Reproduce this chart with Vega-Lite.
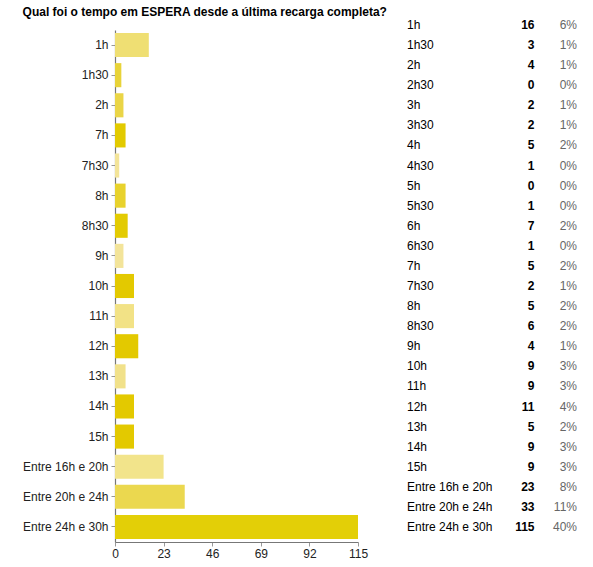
{
  "$schema": "https://vega.github.io/schema/vega-lite/v6.json",
  "background": "white",
  "padding": {"left": 22, "top": 6, "right": 5, "bottom": 5},
  "bounds": "flush",
  "spacing": 49,
  "config": {
    "font": "Liberation Sans",
    "view": {"stroke": null}
  },
  "title": {
    "text": "Qual foi o tempo em ESPERA desde a última recarga completa?",
    "anchor": "start",
    "frame": "bounds",
    "fontSize": 12,
    "fontWeight": "bold",
    "color": "#000000",
    "offset": 0
  },
  "datasets": {
    "responses": [
      {"answer": "1h", "count": 16, "share": 0.06},
      {"answer": "1h30", "count": 3, "share": 0.01},
      {"answer": "2h", "count": 4, "share": 0.01},
      {"answer": "2h30", "count": 0, "share": 0.0},
      {"answer": "3h", "count": 2, "share": 0.01},
      {"answer": "3h30", "count": 2, "share": 0.01},
      {"answer": "4h", "count": 5, "share": 0.02},
      {"answer": "4h30", "count": 1, "share": 0.0},
      {"answer": "5h", "count": 0, "share": 0.0},
      {"answer": "5h30", "count": 1, "share": 0.0},
      {"answer": "6h", "count": 7, "share": 0.02},
      {"answer": "6h30", "count": 1, "share": 0.0},
      {"answer": "7h", "count": 5, "share": 0.02},
      {"answer": "7h30", "count": 2, "share": 0.01},
      {"answer": "8h", "count": 5, "share": 0.02},
      {"answer": "8h30", "count": 6, "share": 0.02},
      {"answer": "9h", "count": 4, "share": 0.01},
      {"answer": "10h", "count": 9, "share": 0.03},
      {"answer": "11h", "count": 9, "share": 0.03},
      {"answer": "12h", "count": 11, "share": 0.04},
      {"answer": "13h", "count": 5, "share": 0.02},
      {"answer": "14h", "count": 9, "share": 0.03},
      {"answer": "15h", "count": 9, "share": 0.03},
      {"answer": "Entre 16h e 20h", "count": 23, "share": 0.08},
      {"answer": "Entre 20h e 24h", "count": 33, "share": 0.11},
      {"answer": "Entre 24h e 30h", "count": 115, "share": 0.40}
    ]
  },
  "data": {"name": "responses"},
  "hconcat": [
    {
      "width": 243,
      "height": 512,
      "transform": [
        {"filter": {"field": "answer", "oneOf": ["1h", "1h30", "2h", "7h", "7h30", "8h", "8h30", "9h", "10h", "11h", "12h", "13h", "14h", "15h", "Entre 16h e 20h", "Entre 20h e 24h", "Entre 24h e 30h"]}}
      ],
      "mark": {"type": "bar"},
      "encoding": {
        "y": {
          "field": "answer",
          "type": "nominal",
          "sort": null,
          "title": null,
          "scale": {"paddingInner": 0.2, "paddingOuter": 0.1},
          "axis": {
            "labelFontSize": 12,
            "labelColor": "#222222",
            "labelPadding": 3,
            "tickSize": 4,
            "tickColor": "#999999",
            "domainColor": "#777777",
            "domainWidth": 1.2
          }
        },
        "x": {
          "field": "count",
          "type": "quantitative",
          "title": null,
          "scale": {"domain": [0, 115], "nice": false},
          "axis": {
            "values": [0, 23, 46, 69, 92, 115],
            "grid": false,
            "labelFlush": false,
            "labelFontSize": 12,
            "labelColor": "#222222",
            "labelPadding": 2,
            "tickSize": 4,
            "tickColor": "#999999",
            "domainColor": "#777777",
            "domainWidth": 1.2
          }
        },
        "color": {
          "field": "answer",
          "type": "nominal",
          "legend": null,
          "scale": {
            "domain": ["1h", "1h30", "2h", "7h", "7h30", "8h", "8h30", "9h", "10h", "11h", "12h", "13h", "14h", "15h", "Entre 16h e 20h", "Entre 20h e 24h", "Entre 24h e 30h"],
            "range": ["#efdf73", "#e8d339", "#ead547", "#e2ca00", "#f3e499", "#e8d22d", "#e3cb02", "#f3e49a", "#e3c900", "#f2e286", "#e3c900", "#f1e18a", "#e3c900", "#e3c900", "#f2e48b", "#ebd84f", "#e3cf07"]
          }
        }
      }
    },
    {
      "width": 170,
      "height": 512,
      "encoding": {
        "y": {
          "field": "answer",
          "type": "ordinal",
          "sort": null,
          "scale": {"type": "point", "padding": 0, "range": [-5, 497]},
          "axis": null
        }
      },
      "layer": [
        {
          "mark": {"type": "text", "align": "left", "baseline": "middle", "fontSize": 12, "color": "#000000"},
          "encoding": {
            "x": {
              "datum": "answer",
              "scale": {"type": "point", "padding": 0, "domain": ["answer", "gap1", "gap2", "count", "share"]},
              "axis": null
            },
            "text": {"field": "answer"}
          }
        },
        {
          "mark": {"type": "text", "align": "right", "baseline": "middle", "fontSize": 12, "fontWeight": "bold", "color": "#000000"},
          "encoding": {
            "x": {"datum": "count"},
            "text": {"field": "count", "type": "quantitative", "format": "d"}
          }
        },
        {
          "mark": {"type": "text", "align": "right", "baseline": "middle", "fontSize": 12, "color": "#666666"},
          "encoding": {
            "x": {"datum": "share"},
            "text": {"field": "share", "type": "quantitative", "format": ".0%"}
          }
        }
      ]
    }
  ]
}
